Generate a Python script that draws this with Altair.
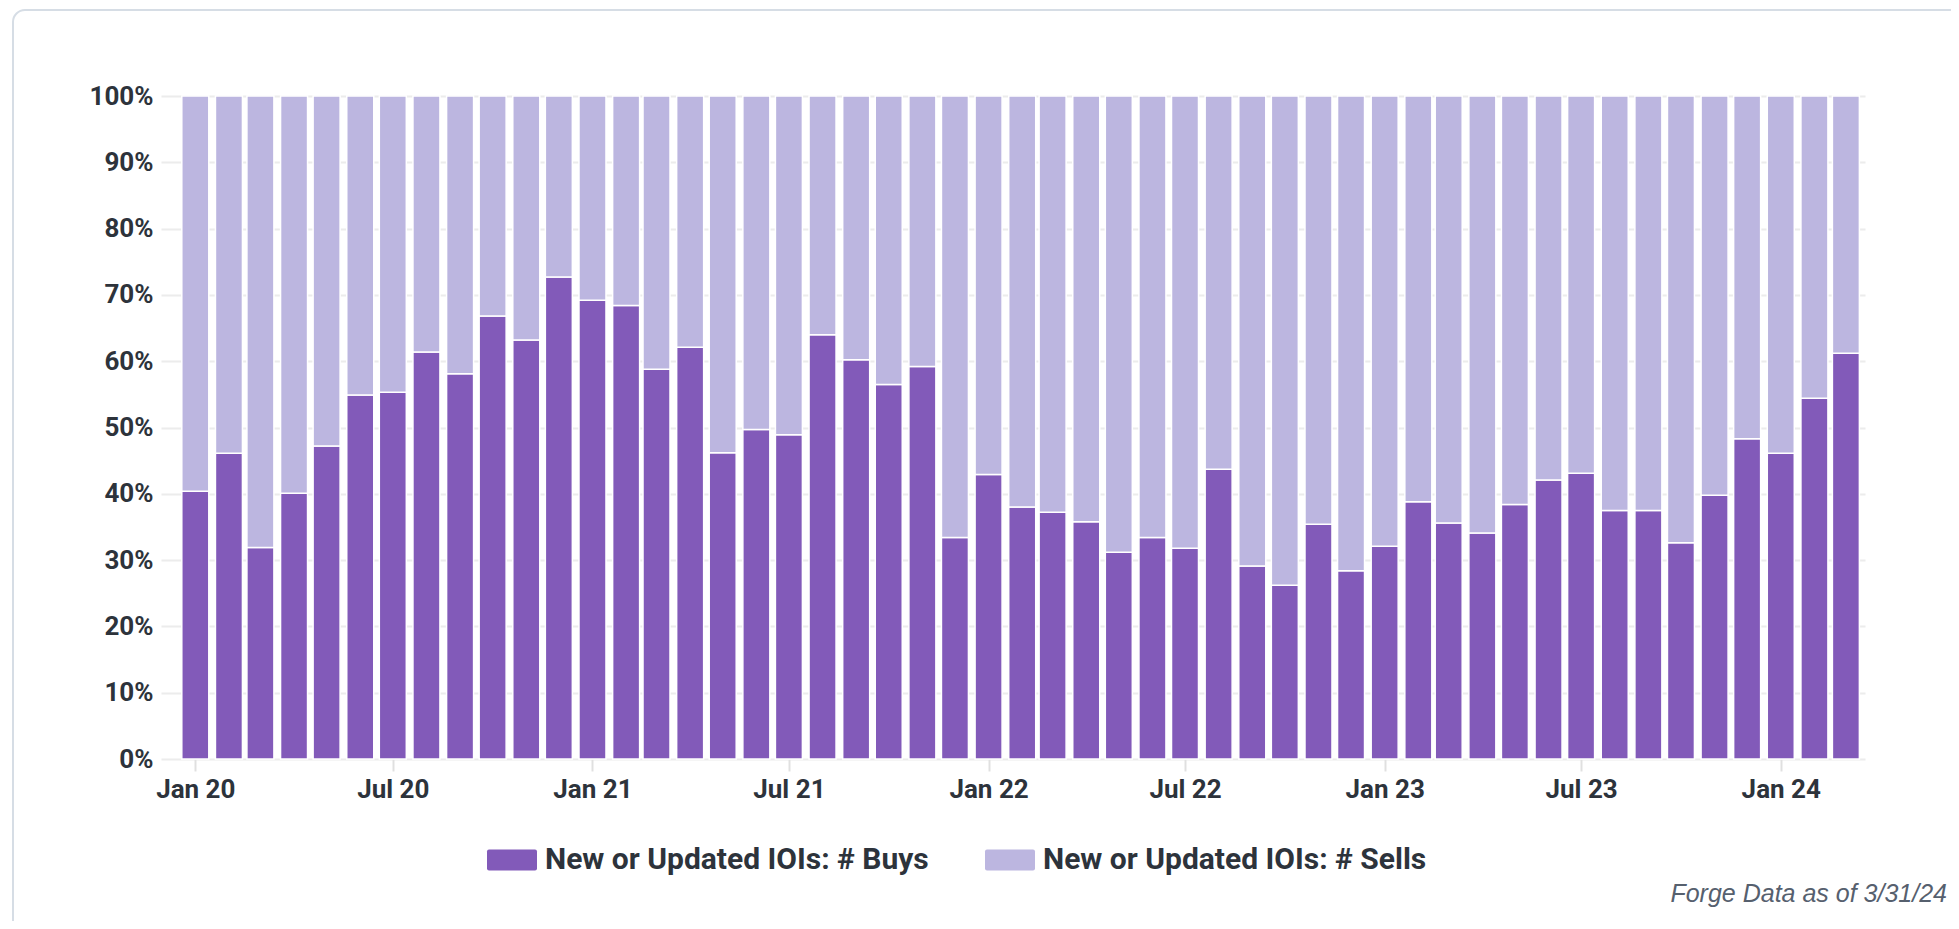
import altair as alt
import pandas as pd

# ---------------- data ----------------
months = pd.date_range("2020-01-01", periods=51, freq="MS").strftime("%Y-%m-%d").tolist()

buys_pct = [
    40.4, 46.1, 31.9, 40.1, 47.2, 54.9, 55.3, 61.4, 58.1, 66.8, 63.2, 72.7,   # 2020
    69.2, 68.4, 58.8, 62.1, 46.2, 49.7, 48.9, 64.0, 60.2, 56.5, 59.2, 33.4,   # 2021
    42.9, 38.0, 37.2, 35.8, 31.2, 33.4, 31.8, 43.7, 29.1, 26.2, 35.4, 28.4,   # 2022
    32.1, 38.8, 35.6, 34.1, 38.4, 42.1, 43.1, 37.5, 37.5, 32.6, 39.8, 48.3,   # 2023
    46.1, 54.4, 61.2,                                                         # 2024
]
sells_pct = [round(100 - v, 1) for v in buys_pct]

series_names = ["New or Updated IOIs: # Buys", "New or Updated IOIs: # Sells"]
series_colors = ["#825ab9", "#bcb6e0"]

y_ticks = [0, 0.1, 0.2, 0.3, 0.4, 0.5, 0.6, 0.7, 0.8, 0.9, 1.0]
x_tick_dates = ["2020-01-01", "2020-07-01", "2021-01-01", "2021-07-01", "2022-01-01",
                "2022-07-01", "2023-01-01", "2023-07-01", "2024-01-01"]
x_domain_dates = ["2019-12-05", "2024-03-14"]
footnote = "Forge Data as of 3/31/24"


def ms(d):
    return int(pd.Timestamp(d, tz="UTC").value // 10**6)


rows = []
for m, b, s in zip(months, buys_pct, sells_pct):
    rows.append({"month": m, "series": series_names[0], "value": b, "order": 0})
    rows.append({"month": m, "series": series_names[1], "value": s, "order": 1})
df = pd.DataFrame(rows)

FONT = "Roboto"
TXT = "#2d333b"

legend_symbol = ("M-0.92,-0.42 L0.92,-0.42 Q1,-0.42 1,-0.34 L1,0.34 Q1,0.42 0.92,0.42 "
                 "L-0.92,0.42 Q-1,0.42 -1,0.34 L-1,-0.34 Q-1,-0.42 -0.92,-0.42 Z")

# decorative card outline around the chart (page frame, not data)
card = alt.Chart(pd.DataFrame({"c": [0]})).mark_rect(
    fillOpacity=0, stroke="#d6dde5", strokeWidth=2, cornerRadius=12,
).encode(
    x=alt.value(-148), x2=alt.value(1830),
    y=alt.value(-86), y2=alt.value(860),
)

bars = alt.Chart(df).mark_bar(width=27, stroke="white", strokeWidth=1.5).encode(
    x=alt.X(
        "month:T",
        title=None,
        scale=alt.Scale(type="utc", domain=[ms(d) for d in x_domain_dates]),
        axis=alt.Axis(
            values=[ms(d) for d in x_tick_dates],
            labelExpr="utcFormat(datum.value, '%b %y')",
            domain=False,
            grid=False,
            ticks=True,
            tickColor="#e0e0e0",
            tickWidth=2,
            tickSize=12,
            labelFont=FONT,
            labelFontSize=26,
            labelFontWeight="bold",
            labelColor=TXT,
            labelPadding=5,
        ),
    ),
    y=alt.Y(
        "value:Q",
        stack="normalize",
        title=None,
        scale=alt.Scale(domain=[0, 1]),
        axis=alt.Axis(
            values=y_ticks,
            format=".0%",
            domain=False,
            ticks=False,
            grid=True,
            gridColor="#ececec",
            gridWidth=2,
            labelFont=FONT,
            labelFontSize=26,
            labelFontWeight="bold",
            labelColor=TXT,
            labelPadding=8,
        ),
    ),
    color=alt.Color(
        "series:N",
        scale=alt.Scale(domain=series_names, range=series_colors),
        legend=alt.Legend(
            title=None,
            orient="none",
            direction="horizontal",
            legendX=326,
            legendY=739,
            padding=0,
            symbolType=legend_symbol,
            symbolSize=2500,
            symbolStrokeWidth=0,
            labelFont=FONT,
            labelFontSize=30,
            labelFontWeight="bold",
            labelColor=TXT,
            labelOffset=8,
            labelLimit=0,
            columnPadding=56,
        ),
    ),
    order=alt.Order("order:Q"),
)

note = alt.Chart(pd.DataFrame({"note": [footnote]})).mark_text(
    align="right", baseline="middle", fontStyle="italic", fontSize=25,
    font="Liberation Sans", color="#56606e",
).encode(text="note:N", x=alt.value(1786), y=alt.value(798))

chart = alt.layer(card, bars, note).properties(
    width=1704,
    height=663,
    autosize=alt.AutoSizeParams(type="none"),
    padding={"left": 153, "top": 88, "right": 86, "bottom": 162},
    background="white",
).configure_view(stroke=None)

chart.save("out.html", embed_options={"renderer": "svg", "actions": False})
